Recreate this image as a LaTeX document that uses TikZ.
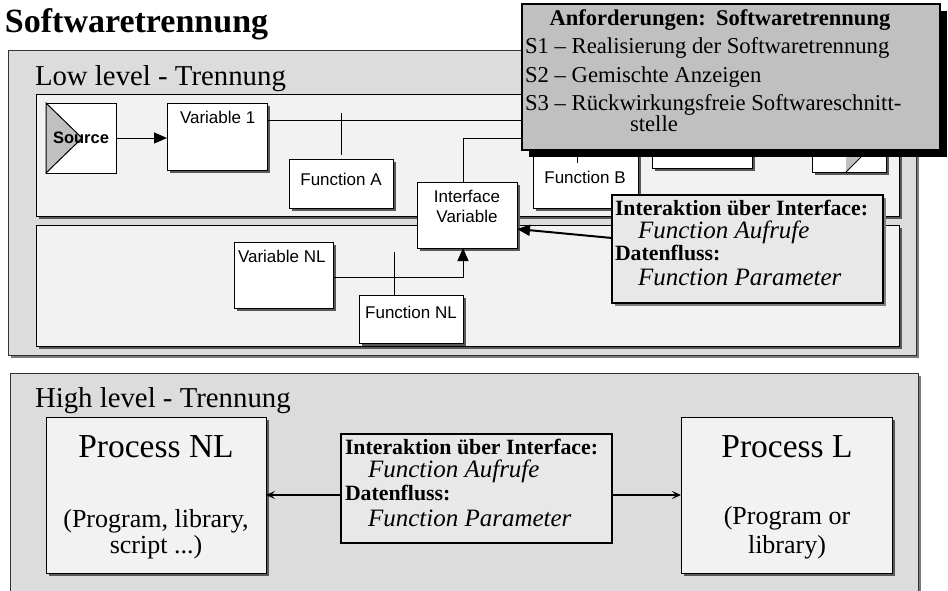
\documentclass[tikz,border=0pt]{standalone}
\usepackage{fontspec}
\setmainfont{Liberation Serif}
\newfontfamily\labelfont{Liberation Sans}
\usetikzlibrary{shadows,arrows.meta}

\definecolor{panegray}{HTML}{DCDCDC}
\definecolor{lanegray}{HTML}{F2F2F2}
\definecolor{notegray}{HTML}{C0C0C0}
\definecolor{infogray}{HTML}{E8E8E8}
\definecolor{shadegray}{HTML}{7A7A7A}

\newcommand{\pxsize}[1]{\fontsize{#1pt}{#1pt}\selectfont}

\begin{document}
\begin{tikzpicture}[x=1pt,y=-1pt,
  box/.style={anchor=north west, inner sep=0pt, outer sep=0pt},
  pane/.style={box, draw=black!80, line width=1pt, fill=panegray,
    drop shadow={shadow xshift=3pt, shadow yshift=-3pt, fill=shadegray, opacity=1}},
  lane/.style={box, draw=black, line width=1pt, fill=lanegray,
    drop shadow={shadow xshift=3pt, shadow yshift=-3pt, fill=black!65, opacity=1}},
  block/.style={box, draw=black, line width=1pt, fill=white,
    drop shadow={shadow xshift=3pt, shadow yshift=-3pt, fill=black!65, opacity=1}},
  procbox/.style={box, draw=black, line width=1pt, fill=lanegray,
    drop shadow={shadow xshift=3pt, shadow yshift=-3pt, fill=black!65, opacity=1}},
  infobox/.style={box, draw=black, line width=2pt, fill=infogray,
    drop shadow={shadow xshift=3pt, shadow yshift=-3pt, fill=black!50, opacity=1}},
  notebox/.style={box, draw=black, line width=1.5pt, fill=notegray,
    drop shadow={shadow xshift=7pt, shadow yshift=-7pt, fill=black, opacity=1}},
  txt/.style={inner sep=0pt, outer sep=0pt},
  sanslabel/.style={txt, font=\labelfont\pxsize{17}},
  boldline/.style={txt, anchor=base west, font=\bfseries\pxsize{21.8}},
  itline/.style={txt, anchor=base west, font=\itshape\pxsize{25}},
  flow/.style={line width=1pt, -{Triangle[length=13pt,width=11pt]}},
  thickflow/.style={line width=2pt, -{Triangle[length=13pt,width=11pt]}},
  procflow/.style={line width=2pt, -{Stealth[length=9pt,width=8pt,inset=4pt]}},
  wire/.style={line width=1pt}
]
\useasboundingbox (0,0) rectangle (948,590);
\fill[white] (0,0) rectangle (948,590);

% heading
\node[txt, anchor=base west, font=\bfseries\pxsize{34}] (title) at (5,32) {Softwaretrennung};

% ---------- low level ----------
\node[pane, minimum width=908pt, minimum height=305pt] (low) at (8,50) {};
\node[txt, anchor=base west, font=\pxsize{28.8}] (lowtitle) at (35,85) {Low level - Trennung};

\node[lane, minimum width=863pt, minimum height=122pt] (laneL) at (36,94) {};
\node[lane, minimum width=863pt, minimum height=121pt] (laneNL) at (36,225) {};

% source
\node[box, draw=black, line width=1pt, fill=white, minimum width=70pt, minimum height=70pt] (src) at (46,103) {};
\draw[line width=1pt, fill=notegray] (src.north west) -- ([xshift=36pt]src.west) -- (src.south west) -- cycle;
\node[txt, font=\labelfont\bfseries\pxsize{16.5}] (srclabel) at (src.center) {Source};

% blocks of the upper lane
\node[block, minimum width=100pt, minimum height=67pt] (var1) at (167,103) {};
\node[sanslabel, anchor=base west] (var1label) at (180,123) {Variable 1};
\node[block, minimum width=104pt, minimum height=49pt] (fa) at (289,159) {};
\node[sanslabel, anchor=base] (falabel) at (341,185) {Function A};
\node[block, minimum width=105pt, minimum height=58pt] (fb) at (533,150) {};
\node[sanslabel, anchor=base] (fblabel) at (585,183) {Function B};
\node[block, minimum width=100pt, minimum height=38pt] (blkc) at (652,130) {};
\node[block, minimum width=74pt, minimum height=42pt] (sink) at (812,130) {};
\fill[notegray] (846,171) -- (870,147) -- (846,147) -- cycle;
\draw[wire] (846,172) -- (870,148);

% interface variable
\node[block, minimum width=100pt, minimum height=66pt] (iv) at (417,182) {};
\node[sanslabel, anchor=base] (ivlabel1) at (467,202) {Interface};
\node[sanslabel, anchor=base] (ivlabel2) at (467,222) {Variable};

% wiring of the upper lane
\coordinate (busA) at (540,120);
\coordinate (busB) at (540,138);
\coordinate (tapA) at (341,113);
\coordinate (tapB) at (577,140);
\draw[flow] (src.east) -- (src.east -| var1.west);
\draw[wire] (var1.east |- busA) -- (busA);
\draw[wire] (tapA) -- ([yshift=4pt]fa.north);
\draw[wire] ([xshift=-4pt]iv.north) |- (busB);
\draw[wire] (tapB) -- (tapB |- 0,163);

% blocks of the lower lane
\node[block, minimum width=99pt, minimum height=66pt] (vnl) at (234,242) {};
\node[sanslabel, anchor=base west] (vnllabel) at (238,262) {Variable NL};
\node[block, minimum width=104pt, minimum height=48pt] (fnl) at (359,295) {};
\node[sanslabel, anchor=base] (fnllabel) at (411,318) {Function NL};
\coordinate (tapNL) at (394,252);
\draw[wire] (tapNL) -- (tapNL |- fnl.north);
\draw[flow] ([yshift=-2pt]vnl.east) -| ([xshift=-4pt]iv.south);

% interaction note of the low level
\node[infobox, minimum width=271pt, minimum height=108pt] (ia) at (612,195) {};
\node[boldline] (ia1) at (615,215) {Interaktion über Interface:};
\node[itline] (ia2) at (638,238) {Function Aufrufe};
\node[boldline] (ia3) at (615,260) {Datenfluss:};
\node[itline] (ia4) at (638,285) {Function Parameter};
\draw[thickflow] ([yshift=11pt]ia.west) -- ([yshift=-14pt]iv.east);

% ---------- high level ----------
\node[pane, minimum width=908pt, minimum height=225pt] (high) at (10,373) {};
\node[txt, anchor=base west, font=\pxsize{28.8}] (hightitle) at (35,407) {High level - Trennung};

\node[procbox, minimum width=220pt, minimum height=156pt] (pnl) at (46,417) {};
\node[txt, anchor=base, font=\pxsize{33.5}] (pnl1) at (156,457) {Process NL};
\node[txt, anchor=base, font=\pxsize{26}] (pnl2) at (156,527) {(Program, library,};
\node[txt, anchor=base, font=\pxsize{26}] (pnl3) at (156,553) {script ...)};

\node[procbox, minimum width=211pt, minimum height=156pt] (pl) at (681,417) {};
\node[txt, anchor=base, font=\pxsize{33.5}] (pl1) at (787,457) {Process L};
\node[txt, anchor=base, font=\pxsize{26}] (pl2) at (787,524) {(Program or};
\node[txt, anchor=base, font=\pxsize{26}] (pl3) at (787,553) {library)};

\node[box, draw=black, line width=2pt, fill=infogray, minimum width=271pt, minimum height=109pt] (hia) at (341,434) {};
\node[boldline] (hia1) at (345,454) {Interaktion über Interface:};
\node[itline] (hia2) at (368,477) {Function Aufrufe};
\node[boldline] (hia3) at (345,500) {Datenfluss:};
\node[itline] (hia4) at (368,526) {Function Parameter};

\draw[procflow] (hia.west |- pnl.east) -- (pnl.east);
\draw[procflow] (hia.east |- pl.west) -- (pl.west);

% ---------- requirements ----------
\node[notebox, minimum width=418pt, minimum height=146pt] (req) at (522,4) {};
\node[txt, anchor=base, font=\bfseries\pxsize{22.5}] (reqhead) at (720,25) {Anforderungen:\hspace{0.45em}Softwaretrennung};
\node[txt, anchor=base west, font=\pxsize{22.7}] (req1) at (525,53) {S1 – Realisierung der Softwaretrennung};
\node[txt, anchor=base west, font=\pxsize{22.7}] (req2) at (525,82) {S2 – Gemischte Anzeigen};
\node[txt, anchor=base west, font=\pxsize{22.7}] (req3) at (525,110) {S3 – Rückwirkungsfreie Softwareschnitt-};
\node[txt, anchor=base west, font=\pxsize{22.7}] (req3b) at (630,131) {stelle};
\end{tikzpicture}
\end{document}
